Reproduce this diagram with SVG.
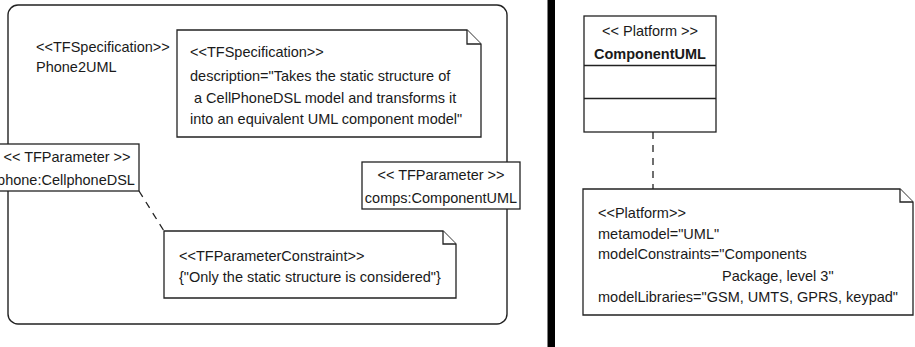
<svg xmlns="http://www.w3.org/2000/svg" width="915" height="347" viewBox="0 0 915 347">
  <style>
    .shape { fill: #fff; stroke: #222; stroke-width: 1.3; }
    .frame { fill: none; stroke: #222; stroke-width: 1.4; }
    .link { fill: none; stroke: #222; stroke-width: 1.3; stroke-dasharray: 7 6; }
    text { font-family: "Liberation Sans", Arial, sans-serif; font-size: 14.5px; fill: #1a1a1a; }
    .mid { text-anchor: middle; }
    .bold { font-weight: bold; }
  </style>
  <rect x="0" y="0" width="915" height="347" fill="#fff"/>

  <!-- transformation frame -->
  <g id="phone2uml">
    <rect class="frame" x="8" y="5" width="499" height="319" rx="10" ry="10"/>
    <text x="36" y="52">&lt;&lt;TFSpecification&gt;&gt;</text>
    <text x="36" y="72">Phone2UML</text>
  </g>

  <!-- separator -->
  <rect x="547.5" y="0" width="7.5" height="347" fill="#000"/>

  <!-- connectors -->
  <g id="connectors">
    <line class="link" x1="139" y1="191" x2="164" y2="231"/>
    <line class="link" x1="653" y1="132" x2="653" y2="189"/>
  </g>

  <g id="spec-note">
    <path class="shape" d="M177 30 H467 L481 44 V137 H177 Z"/>
    <path class="shape" d="M467 30 V44 H481" fill="none"/>
    <text x="190" y="57">&lt;&lt;TFSpecification&gt;&gt;</text>
    <text x="190" y="81">description="Takes the static structure of</text>
    <text x="190" y="103" xml:space="preserve"> a CellPhoneDSL model and transforms it</text>
    <text x="190" y="124">into an equivalent UML component model"</text>
  </g>

  <g id="param-phone">
    <rect class="shape" x="-6" y="144" width="145" height="47"/>
    <text class="mid" x="67" y="162">&lt;&lt; TFParameter &gt;&gt;</text>
    <text class="mid" x="66" y="185">phone:CellphoneDSL</text>
  </g>

  <g id="param-comps">
    <rect class="shape" x="362" y="162" width="158" height="47"/>
    <text class="mid" x="441" y="180">&lt;&lt; TFParameter &gt;&gt;</text>
    <text class="mid" x="441" y="203">comps:ComponentUML</text>
  </g>

  <g id="constraint-note">
    <path class="shape" d="M164 231 H443 L456 244 V298 H164 Z"/>
    <path class="shape" d="M443 231 V244 H456" fill="none"/>
    <text x="179" y="261">&lt;&lt;TFParameterConstraint&gt;&gt;</text>
    <text x="179" y="282">{"Only the static structure is considered"}</text>
  </g>

  <!-- platform -->
  <g id="platform-class">
    <rect class="shape" x="584" y="16" width="132" height="116"/>
    <line class="shape" x1="584" y1="65.5" x2="716" y2="65.5"/>
    <line class="shape" x1="584" y1="98.5" x2="716" y2="98.5"/>
    <text class="mid" x="650" y="36">&lt;&lt; Platform &gt;&gt;</text>
    <text class="mid bold" x="650" y="58.5">ComponentUML</text>
  </g>

  <g id="platform-note">
    <path class="shape" d="M583 189 H900 L913 202 V315 H583 Z"/>
    <path class="shape" d="M900 189 V202 H913" fill="none"/>
    <text x="598" y="218">&lt;&lt;Platform&gt;&gt;</text>
    <text x="598" y="239">metamodel="UML"</text>
    <text x="598" y="259">modelConstraints="Components</text>
    <text x="722" y="281">Package, level 3"</text>
    <text x="598" y="302">modelLibraries="GSM, UMTS, GPRS, keypad"</text>
  </g>
</svg>
